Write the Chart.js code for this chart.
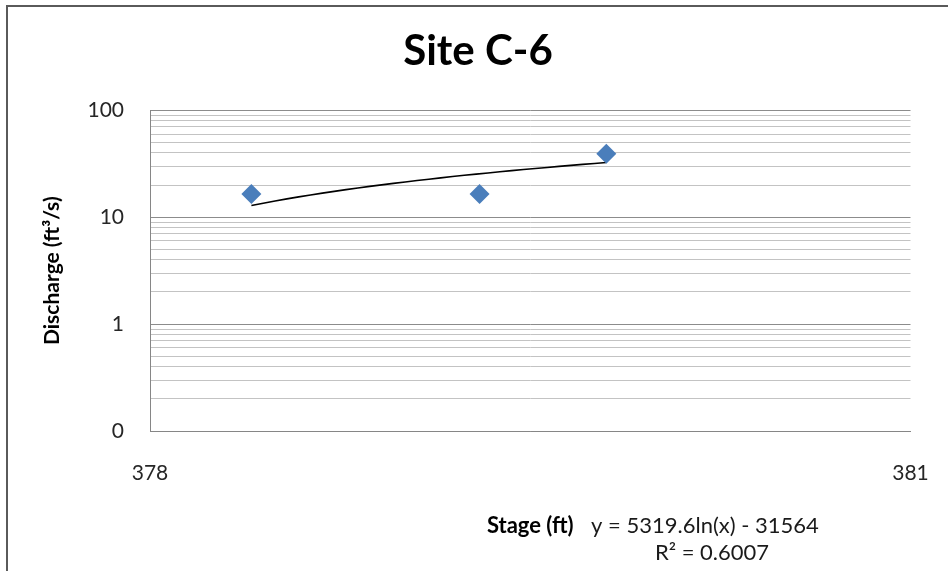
<!DOCTYPE html>
<html>
<head>
<meta charset="utf-8">
<title>Site C-6</title>
<script src="https://cdn.jsdelivr.net/npm/chart.js@4/dist/chart.umd.min.js"></script>
<style>
  html, body { margin: 0; padding: 0; background: #fff; overflow: hidden; }
  #wrap { position: relative; width: 948px; height: 571px; }
  #frame { position: absolute; left: 6px; top: 5px; width: 960px; height: 600px;
           border-left: 2px solid #5a5a5a; border-top: 2px solid #5a5a5a; pointer-events: none; }
  canvas { display: block; }
</style>
</head>
<body>
<div id="wrap">
  <canvas id="chart" width="948" height="571"></canvas>
  <div id="frame"></div>
</div>
<script>
// Observed stage / discharge pairs
const stageFt = [378.40, 379.30, 379.80];
const dischargeCfs = [16.5, 16.5, 39.2];

// Logarithmic trendline coefficients: y = a ln(x) + b
const trendA = 5319.6;
const trendB = -31564;
const trendR2 = 0.6007;

// Axis tick labels
const xTickValues = [378, 381];
const yTickValues = [0.1, 1, 10, 100];
const yTickLabels = ['0', '1', '10', '100'];
const yMinorMultipliers = [2, 3, 4, 5, 6, 7, 8, 9];

const FONT = "Lato, 'Open Sans', 'Liberation Sans', sans-serif";

// Trendline sampled across the span of the observations
const trendPoints = [];
const x0 = Math.min(...stageFt), x1 = Math.max(...stageFt);
const steps = 30;
for (let i = 0; i <= steps; i++) {
  const x = x0 + (x1 - x0) * i / steps;
  trendPoints.push({ x: x, y: trendA * Math.log(x) + trendB });
}

// All gridline positions on the log axis: decades plus their 2..9 multiples
const yGridValues = [];
for (let d = 0; d < yTickValues.length - 1; d++) {
  yGridValues.push(yTickValues[d]);
  yMinorMultipliers.forEach(m => yGridValues.push(+(yTickValues[d] * m).toPrecision(6)));
}
yGridValues.push(yTickValues[yTickValues.length - 1]);

const isMajor = v => yTickValues.some(t => Math.abs(t - v) < 1e-9);

// Trendline equation text
const equationLabel = {
  id: 'equationLabel',
  afterDraw(chart) {
    const ctx = chart.ctx;
    ctx.save();
    ctx.fillStyle = '#1a1a1a';
    ctx.font = '22px ' + FONT;
    ctx.textBaseline = 'middle';
    ctx.textAlign = 'center';
    const sign = trendB < 0 ? ' - ' : ' + ';
    ctx.fillText('y = ' + trendA + 'ln(x)' + sign + Math.abs(trendB), 705, 526);
    ctx.fillText('R\u00B2 = ' + trendR2.toFixed(4), 712, 553);
    ctx.restore();
  }
};

new Chart(document.getElementById('chart'), {
  type: 'scatter',
  data: {
    datasets: [
      {
        label: 'Discharge',
        data: stageFt.map((x, i) => ({ x: x, y: dischargeCfs[i] })),
        pointStyle: 'rectRot',
        pointRadius: 10,
        pointHoverRadius: 10,
        backgroundColor: '#4a7ebb',
        borderColor: '#4a7ebb',
        borderWidth: 0,
        showLine: false,
        order: 1
      },
      {
        label: 'Log. (Discharge)',
        data: trendPoints,
        type: 'line',
        showLine: true,
        borderColor: '#000',
        borderWidth: 1.6,
        pointRadius: 0,
        fill: false,
        tension: 0,
        order: 2
      }
    ]
  },
  options: {
    responsive: false,
    animation: false,
    events: [],
    layout: { padding: { left: 45.5, right: 37.5, top: 0, bottom: 0 } },
    plugins: {
      legend: { display: false },
      tooltip: { enabled: false },
      title: {
        display: true,
        text: 'Site C-6',
        color: '#000',
        font: { family: FONT, size: 42, weight: 'bold', lineHeight: 1.2 },
        padding: { top: 26, bottom: 34 }
      }
    },
    scales: {
      x: {
        type: 'linear',
        min: 378,
        max: 381,
        afterBuildTicks(scale) { scale.ticks = xTickValues.map(v => ({ value: v })); },
        afterFit(scale) {
          scale.height = 140;
          scale.paddingLeft = 0;
          scale.paddingRight = 0;
        },
        grid: { display: false, drawTicks: false },
        border: { display: true, color: '#868686', width: 1 },
        ticks: {
          color: '#262626',
          padding: 30,
          font: { family: FONT, size: 21 },
          callback: v => String(v)
        },
        title: {
          display: true,
          text: 'Stage (ft)',
          color: '#000',
          font: { family: FONT, size: 22, weight: 'bold', lineHeight: 1.2 },
          padding: { top: 0, bottom: 32 }
        }
      },
      y: {
        type: 'logarithmic',
        min: 0.1,
        max: 100,
        afterBuildTicks(scale) { scale.ticks = yGridValues.map(v => ({ value: v, major: isMajor(v) })); },
        afterFit(scale) { scale.width = 104.5; },
        grid: {
          drawTicks: false,
          lineWidth: 1,
          color: ctx => (ctx.tick && isMajor(ctx.tick.value)) ? '#8c8c8c' : '#c3c3c3'
        },
        border: { display: true, color: '#868686', width: 1 },
        ticks: {
          color: '#262626',
          padding: 26,
          autoSkip: false,
          font: { family: FONT, size: 21 },
          callback: function (v) {
            const i = yTickValues.findIndex(t => Math.abs(t - v) < 1e-9);
            return i >= 0 ? yTickLabels[i] : '';
          }
        },
        title: {
          display: true,
          text: 'Discharge (ft\u00B3/s)',
          color: '#000',
          font: { family: FONT, size: 21, weight: 'bold', lineHeight: 1.2 },
          padding: { top: -6, bottom: 0 }
        }
      }
    }
  },
  plugins: [equationLabel]
});
</script>
</body>
</html>
